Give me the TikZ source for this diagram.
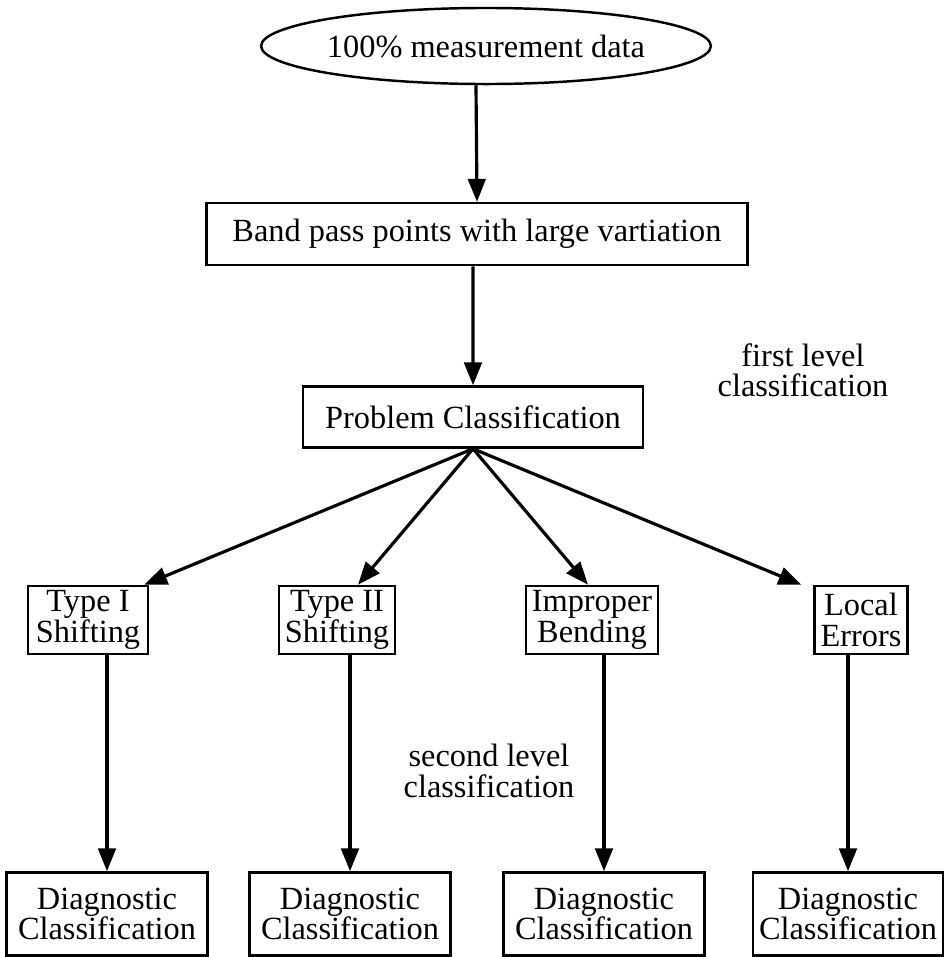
\documentclass[tikz,border=0pt]{standalone}
\usepackage{fontspec}
\setmainfont{Liberation Serif}
\usetikzlibrary{arrows.meta,shapes,positioning}

\begin{document}
\begin{tikzpicture}[x=0.01cm,y=-0.01cm,>={Triangle[length=6.5pt,width=5pt]},
 font=\fontsize{9.2}{8.6}\selectfont,
 box/.style={draw,line width=0.7pt,inner sep=0pt,align=center},
 typebox/.style={box,inner xsep=0.06cm,minimum height=0.68cm},
 diagbox/.style={box,minimum width=2.01cm,minimum height=0.83cm},
 arr/.style={->,line width=0.9pt}]
\useasboundingbox (0,0) rectangle (952,957);
\node[box,ellipse,minimum width=4.18cm,minimum height=0.76cm] (data) at (486,46) {100\% measurement data};
\node[box,minimum width=5.41cm,minimum height=0.62cm] (band) at (477,234) {Band pass points with large vartiation};
\node[box,minimum width=3.40cm,minimum height=0.61cm] (prob) at (473,417) {Problem Classification};
\node[align=center] (lev1) at (803,370) {first level\\classification};
% second level boxes
\node[typebox,minimum width=1.20cm] (t1) at (88,620) {Type I\\Shifting};
\node[typebox] (t2) at (337,620) {Type II\\Shifting};
\node[typebox] (t3) at (592,620) {Improper\\Bending};
\node[typebox] (t4) at (861,620) {Local\\Errors};
\node[align=center] (lev2) at (489,771) {second level\\classification};
% diagnostic boxes
\node[diagbox] (d1) at (107,914) {Diagnostic\\Classification};
\node[diagbox] (d2) at (350,914) {Diagnostic\\Classification};
\node[diagbox] (d3) at (604,914) {Diagnostic\\Classification};
\node[diagbox,minimum width=1.90cm] (d4) at (848,914) {Diagnostic\\Classification};
\draw[arr] ([xshift=-0.1cm]data.south) -- (band.north);
\draw[arr] ([xshift=-0.04cm]band.south) -- (prob.north);
\draw[arr] (prob.south) -- ([xshift=-0.05cm]t1.north east);
\draw[arr] (prob.south) -- ([xshift=0.21cm]t2.north);
\draw[arr] (prob.south) -- ([xshift=-0.04cm]t3.north);
\draw[arr] (prob.south) -- ([xshift=-0.12cm]t4.north west);
\foreach \i in {1,...,4}
 \draw[arr] (t\i.south -| d\i.north) -- (d\i.north);
\end{tikzpicture}
\end{document}
